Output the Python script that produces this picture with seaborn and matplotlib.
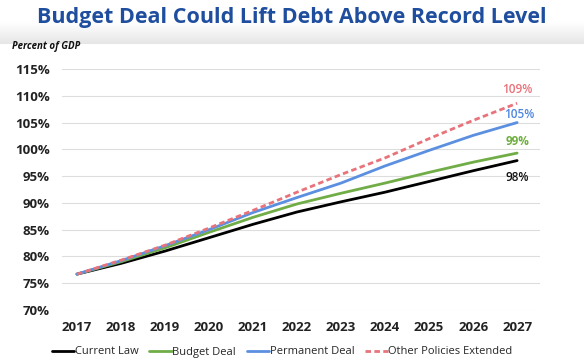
import numpy as np
import pandas as pd
import matplotlib
matplotlib.use("Agg")
import matplotlib.pyplot as plt
import seaborn as sns
from matplotlib.lines import Line2D

years = list(range(2017, 2028))
current_law = [76.7, 78.7, 81.0, 83.5, 86.0, 88.3, 90.2, 92.0, 94.0, 96.0, 97.9]
budget_deal = [76.7, 79.0, 81.6, 84.5, 87.3, 89.8, 91.8, 93.7, 95.7, 97.6, 99.3]
permanent_deal = [76.7, 79.2, 82.0, 85.0, 88.2, 91.0, 93.7, 96.9, 99.8, 102.6, 105.0]
other_policies = [76.7, 79.3, 82.1, 85.3, 88.6, 92.0, 95.3, 98.4, 102.0, 105.4, 108.6]
series_names = ["Current Law", "Budget Deal", "Permanent Deal", "Other Policies Extended"]
end_labels = ["98%", "99%", "105%", "109%"]
yticks = list(range(70, 120, 5))

colors = {"Current Law": "#000000", "Budget Deal": "#70AD47",
          "Permanent Deal": "#5B8FE0", "Other Policies Extended": "#E8737B"}
label_colors = {"Current Law": "#111111", "Budget Deal": "#6FAF3F",
                "Permanent Deal": "#4F86E0", "Other Policies Extended": "#E8737B"}

rows = []
for name, vals in zip(series_names, [current_law, budget_deal, permanent_deal, other_policies]):
    for y, v in zip(years, vals):
        rows.append({"Year": y, "Value": v, "Series": name})
df = pd.DataFrame(rows)

sns.set_theme(style="white")
plt.rcParams['font.family'] = ['Open Sans', 'DejaVu Sans']

W, H = 584, 361
fig = plt.figure(figsize=(W / 100, H / 100), dpi=100)

# title banner gradient
bax = fig.add_axes([0, 1 - 44 / H, 1, 44 / H])
grad = np.linspace(0, 1, 100).reshape(-1, 1)
cmap = matplotlib.colors.LinearSegmentedColormap.from_list("g", ["#FFFFFF", "#FFFFFF", "#E6E6E6"])
bax.imshow(grad, aspect="auto", cmap=cmap, extent=[0, 1, 0, 1])
bax.set_axis_off()
fig.text(0.5, 1 - 18 / H, "Budget Deal Could Lift Debt Above Record Level",
         ha="center", va="center", fontsize=15.5, fontweight="bold", color="#1F4E9E")
fig.text(12 / W, 1 - 47 / H, "Percent of GDP", ha="left", va="center",
         fontsize=7, fontweight="bold", style="italic", color="#111111")

left, right = 62 / W, 540 / W
top, bottom = 1 - 69 / H, 1 - 310 / H
ax = fig.add_axes([left, bottom, right - left, top - bottom])

sns.lineplot(data=df, x="Year", y="Value", hue="Series", style="Series",
             palette=colors, dashes={"Current Law": "", "Budget Deal": "",
                                     "Permanent Deal": "", "Other Policies Extended": (2, 1.2)},
             linewidth=2, ax=ax, legend=False)

ax.set_xlim(2016.66, 2027.52)
ax.set_ylim(70, 115)
ax.set_yticks(yticks)
ax.set_yticklabels([f"{t}%" for t in yticks])
ax.set_xticks(years)
ax.set_xticklabels([str(y) for y in years])
ax.grid(axis="y", color="#DDDDDD", linewidth=0.8)
ax.grid(axis="x", visible=False)
for s in ax.spines.values():
    s.set_visible(False)
ax.set_xlabel("")
ax.set_ylabel("")
ax.tick_params(axis="both", length=0, labelsize=9.5, colors="#222222")
ax.tick_params(axis="y", pad=9)
ax.tick_params(axis="x", pad=8)
for lab in ax.get_xticklabels() + ax.get_yticklabels():
    lab.set_fontweight("bold")

# end labels
offsets = {"Current Law": (0, -12), "Budget Deal": (0, 8.6),
           "Permanent Deal": (1.5, 5.5), "Other Policies Extended": (0, 10)}
weights = {"Current Law": "semibold", "Budget Deal": "bold",
           "Permanent Deal": "semibold", "Other Policies Extended": "semibold"}
for name, vals, lab in zip(series_names, [current_law, budget_deal, permanent_deal, other_policies], end_labels):
    ax.annotate(lab, (years[-1], vals[-1]), xytext=offsets[name], textcoords="offset points",
                ha="center", va="center", fontsize=8.5, fontweight=weights[name],
                color=label_colors[name])

# legend
handles = [Line2D([], [], color=colors[n], lw=2,
                  dashes=(2, 1.2) if n == "Other Policies Extended" else (None, None))
           for n in series_names]
fig.legend(handles, series_names, loc="center", bbox_to_anchor=(0.483, 1 - 352 / H), ncol=4,
           frameon=False, fontsize=8, handlelength=2.0, handletextpad=0.05, columnspacing=1.0)

fig.savefig("out.png", dpi=100)
